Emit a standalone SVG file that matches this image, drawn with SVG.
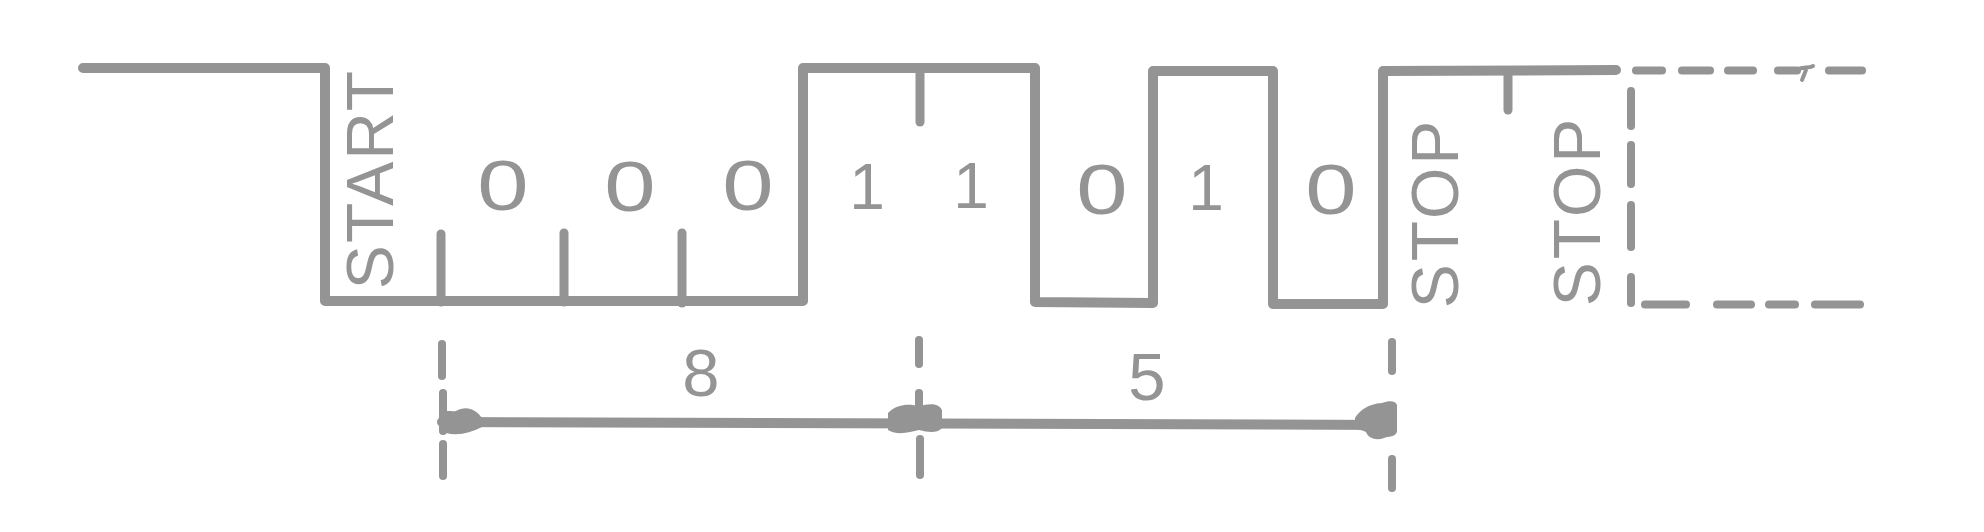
<svg xmlns="http://www.w3.org/2000/svg" width="1984" height="532" viewBox="0 0 1984 532">
<style>
.ln{fill:none;stroke:#949494;stroke-width:10;stroke-linecap:round;stroke-linejoin:round}
.tk{fill:none;stroke:#949494;stroke-width:9;stroke-linecap:round}
.ds{fill:none;stroke:#949494;stroke-width:8;stroke-linecap:round}
.ah{fill:#949494;stroke:none}
.t{font-family:"Liberation Sans",Arial,sans-serif;fill:#949494}
.lbl{font-size:66px}
.bit{font-size:71px}
.one{font-size:64px}
.dim{font-size:67px}
</style>
<rect width="1984" height="532" fill="#ffffff"/>
<g id="waveform">
<polyline class="ln" points="83,68 325,68 325,301 803,301 803,68 1035,68 1035,302 1153,303 1153,71 1273,71 1273,304 1383,304 1383,71 1616,70"/>
<line class="tk" x1="441" y1="234" x2="441" y2="302"/>
<line class="tk" x1="564" y1="233" x2="564" y2="302"/>
<line class="tk" x1="682" y1="233" x2="682" y2="303"/>
<line class="tk" x1="920" y1="70" x2="920" y2="122"/>
<line class="tk" x1="1508" y1="72" x2="1508" y2="110"/>
</g>
<g id="continuation">
<line class="ds" x1="1636" y1="70.5" x2="1662" y2="70.5"/>
<line class="ds" x1="1682" y1="70.5" x2="1710" y2="70.5"/>
<line class="ds" x1="1728" y1="70.5" x2="1753" y2="70.5"/>
<line class="ds" x1="1778" y1="70.5" x2="1797" y2="70.5"/>
<path class="ds" style="stroke-width:4" d="M1797,70 C1803,66 1808,69 1813,66 M1806,70 L1802,80"/>
<line class="ds" x1="1829" y1="70.5" x2="1862" y2="70.5"/>
<line class="ds" x1="1631" y1="91" x2="1631" y2="126"/>
<line class="ds" x1="1631" y1="145" x2="1631" y2="184"/>
<line class="ds" x1="1631" y1="205" x2="1631" y2="247"/>
<line class="ds" x1="1631" y1="277" x2="1631" y2="303"/>
<line class="ds" x1="1645" y1="304.5" x2="1686" y2="304.5"/>
<line class="ds" x1="1717" y1="304.5" x2="1751" y2="304.5"/>
<line class="ds" x1="1769" y1="304.5" x2="1795" y2="304.5"/>
<line class="ds" x1="1815" y1="304.5" x2="1860" y2="304.5"/>
</g>
<g id="labels">
<text class="t lbl" transform="translate(393,179) rotate(-90)" text-anchor="middle" letter-spacing="2">START</text>
<text class="t lbl" transform="translate(1458,213) rotate(-90)" text-anchor="middle" letter-spacing="3">STOP</text>
<text class="t lbl" transform="translate(1600,211) rotate(-90)" text-anchor="middle" letter-spacing="3">STOP</text>
<text class="t bit" transform="translate(503,210) scale(1.3,1)" text-anchor="middle">0</text>
<text class="t bit" transform="translate(630,211) scale(1.3,1)" text-anchor="middle">0</text>
<text class="t bit" transform="translate(748,210) scale(1.3,1)" text-anchor="middle">0</text>
<text class="t one" x="867" y="209" text-anchor="middle">1</text>
<text class="t one" x="971" y="208" text-anchor="middle">1</text>
<text class="t bit" transform="translate(1102,214) scale(1.3,1)" text-anchor="middle">0</text>
<text class="t one" x="1206" y="210" text-anchor="middle">1</text>
<text class="t bit" transform="translate(1331,214) scale(1.3,1)" text-anchor="middle">0</text>
</g>
<g id="dimension-8">
<text class="t dim" x="701" y="396" text-anchor="middle">8</text>
</g>
<g id="dimension-5">
<text class="t dim" x="1147" y="400" text-anchor="middle">5</text>
</g>
<g id="connectors">
<line class="ds" x1="442" y1="344" x2="442" y2="376"/>
<line class="ds" x1="443" y1="393" x2="443" y2="431"/>
<line class="ds" x1="443" y1="444" x2="443" y2="476"/>
<line class="ds" x1="919" y1="340" x2="919" y2="364"/>
<line class="ds" x1="919" y1="393" x2="919" y2="408"/>
<line class="ds" x1="920" y1="439" x2="920" y2="475"/>
<line class="ds" x1="1392" y1="342" x2="1392" y2="371"/>
<line class="ds" x1="1392" y1="459" x2="1392" y2="488"/>
<line class="ln" x1="442" y1="422" x2="1392" y2="425"/>
<path class="ah" d="M440,412 C446,410 452,412 456,411 C466,405 476,409 482,418 L482,427 C470,433 458,436 446,433 C441,431 439,426 440,412 Z"/>
<path class="ah" d="M888,413 C898,403 910,404 919,406 C928,404 938,402 942,410 L942,428 C936,434 928,432 919,430 C910,432 898,436 888,430 Z"/>
<path class="ah" d="M1355,418 C1360,410 1368,404 1382,403 C1390,400 1396,401 1397,405 L1397,432 C1394,438 1388,436 1384,438 C1376,441 1368,438 1366,432 C1362,430 1358,430 1355,428 Z"/>
</g>
</svg>
